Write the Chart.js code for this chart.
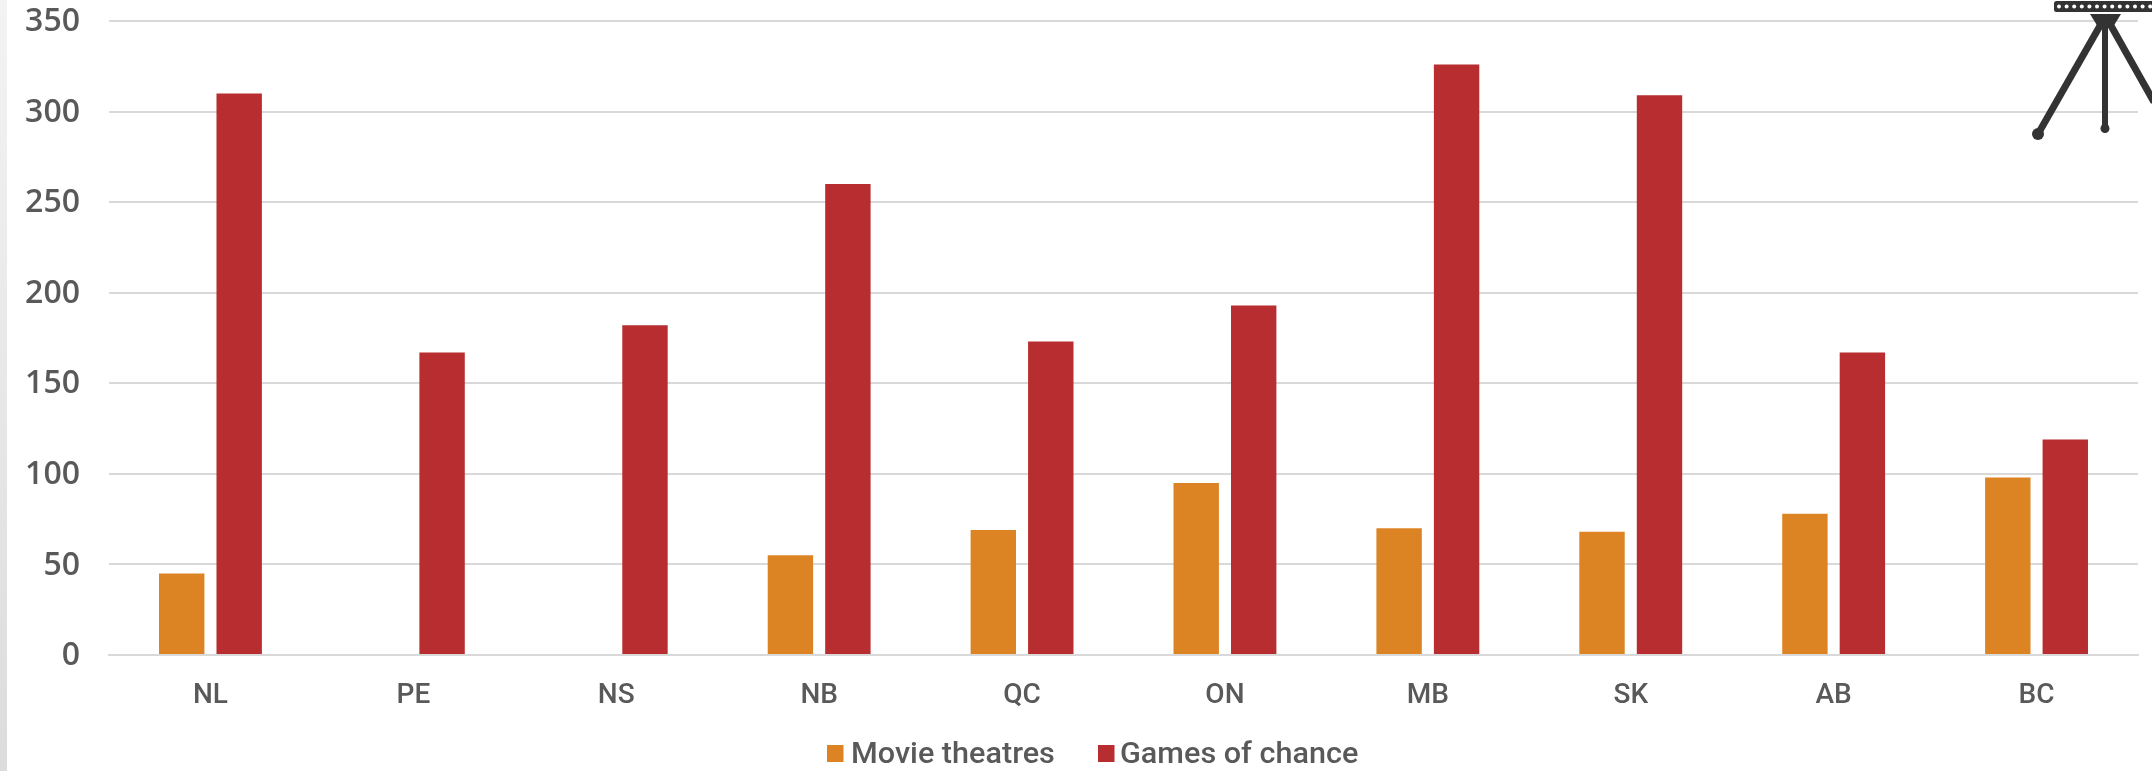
<!DOCTYPE html>
<html>
<head>
<meta charset="utf-8">
<script src="https://cdn.jsdelivr.net/npm/chart.js@4"></script>
<style>
html,body{margin:0;padding:0;background:#fff;overflow:hidden}
#wrap{position:relative;width:2152px;height:771px}
#strip{position:absolute;left:0;top:0;width:7px;height:771px;background:linear-gradient(#f3f3f3,#dcdcdc)}
#icon{position:absolute;left:2030px;top:0}
canvas{position:absolute;left:0;top:0}
</style>
</head>
<body>
<div id="wrap">
<canvas id="c" width="2152" height="771"></canvas>
<div id="strip"></div>
<svg id="icon" width="122" height="145" viewBox="0 0 122 145">
  <rect x="24" y="1" width="100" height="11" rx="2.5" fill="#333"/>
  <g id="holes" fill="#fff"></g>
  <path d="M60 14H91L83 27H68Z" fill="#333"/>
  <path d="M71 24L8 134" stroke="#333" stroke-width="7" fill="none"/>
  <path d="M75 24V128" stroke="#333" stroke-width="6" fill="none"/>
  <path d="M80 24L124 102" stroke="#333" stroke-width="7" fill="none"/>
  <circle cx="8" cy="134" r="6" fill="#333"/>
  <circle cx="75" cy="128.500" r="4.500" fill="#333"/>
</svg>
</div>
<script>
const categories = ['NL','PE','NS','NB','QC','ON','MB','SK','AB','BC'];
const movieTheatres = [45,null,null,55,69,95,70,68,78,98];
const gamesOfChance = [310,167,182,260,173,193,326,309,167,119];
const yTicks = [0,50,100,150,200,250,300,350];
const TEXT = '#595959';
const GRID = '#d9d9d9';

const holes = document.getElementById('holes');
for (let x = 29; x < 124; x += 7.6) {
  const c = document.createElementNS('http://www.w3.org/2000/svg','circle');
  c.setAttribute('cx', x); c.setAttribute('cy', 6.5); c.setAttribute('r', 2);
  holes.appendChild(c);
}

// Legend with tight swatch/text gap and condensed text, driven by the chart's datasets
const tightLegend = {
  id: 'tightLegend',
  afterDraw(chart) {
    const ctx = chart.ctx;
    const boxes = [827, 1098];
    const texts = [851, 1120];
    const squeeze = 1.02;
    ctx.save();
    ctx.textBaseline = 'alphabetic';
    ctx.textAlign = 'left';
    chart.data.datasets.forEach((ds, i) => {
      ctx.fillStyle = ds.backgroundColor;
      ctx.fillRect(boxes[i], 745, 16.5, 17);
      ctx.save();
      ctx.translate(texts[i], 763);
      ctx.scale(squeeze, 1);
      ctx.fillStyle = TEXT;
      ctx.font = '500 30px Roboto';
      ctx.fillText(ds.label, 0, 0);
      ctx.restore();
    });
    ctx.restore();
  }
};

new Chart(document.getElementById('c'), {
  type: 'bar',
  data: {
    labels: categories,
    datasets: [
      {label:'Movie theatres', data: movieTheatres, backgroundColor:'#DC8424', categoryPercentage:0.5665, barPercentage:0.79},
      {label:'Games of chance', data: gamesOfChance, backgroundColor:'#B72D30', categoryPercentage:0.5665, barPercentage:0.79}
    ]
  },
  options: {
    responsive:false,
    animation:false,
    layout:{padding:{top:21,right:14,bottom:0,left:0}},
    plugins:{legend:{display:false},tooltip:{enabled:false},title:{display:false}},
    scales:{
      x:{
        grid:{display:false,drawTicks:false},
        border:{color:GRID,width:2},
        ticks:{color:TEXT,font:{family:'Roboto',size:28,weight:'500'},padding:24,maxRotation:0},
        afterFit(s){s.height=116;}
      },
      y:{
        min:0,max:350,
        afterBuildTicks(s){s.ticks=yTicks.map(v=>({value:v}));},
        grid:{color:GRID,lineWidth:2,drawTicks:false},
        border:{display:false},
        ticks:{color:TEXT,font:{family:'"Open Sans"',size:32,weight:'600'},padding:29,labelOffset:1},
        afterFit(s){s.width=109;s.paddingTop=0;s.paddingBottom=0;}
      }
    }
  },
  plugins:[tightLegend]
});
</script>
</body>
</html>
